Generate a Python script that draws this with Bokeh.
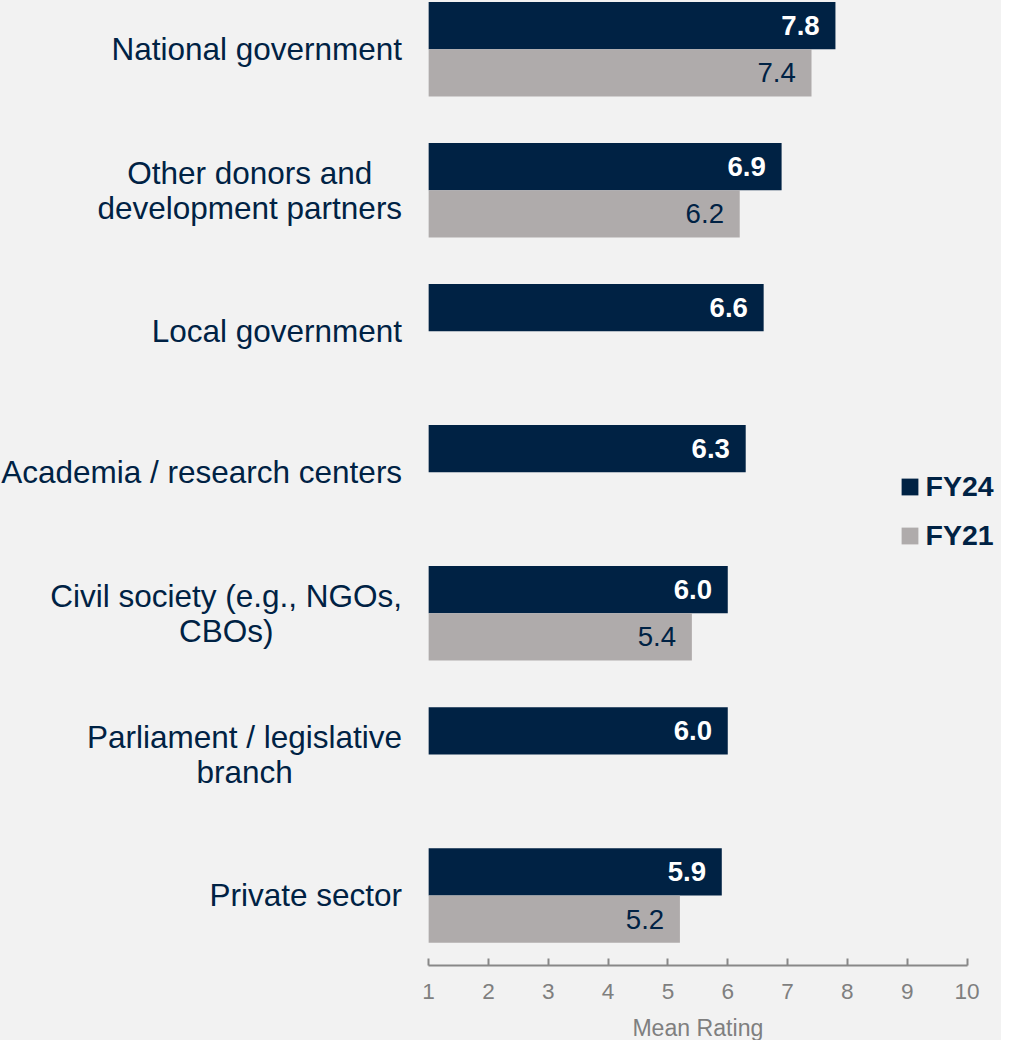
import numpy as np
from bokeh.plotting import figure
from bokeh.layouts import column
from bokeh.models import (ColumnDataSource, Range1d, LinearAxis, FixedTicker,
                          Legend, LegendItem)
from bokeh.core.properties import value
from bokeh.embed import file_html
from bokeh.resources import INLINE

# ---------------- data ----------------
categories = [
    "National government",
    "Other donors and\ndevelopment partners",
    "Local government",
    "Academia / research centers",
    "Civil society (e.g., NGOs,\nCBOs)",
    "Parliament / legislative\nbranch",
    "Private sector",
]
fy24 = [7.8, 6.9, 6.6, 6.3, 6.0, 6.0, 5.9]
fy21 = [7.4, 6.2, None, None, 5.4, None, 5.2]
series_names = ["FY24", "FY21"]
x_ticks = [1, 2, 3, 4, 5, 6, 7, 8, 9, 10]
axis_title = "Mean Rating"

# ---------------- style / layout ----------------
W, H = 1001, 1040
S = W / 1017.0
DARK = "#002244"
GRAY = "#AFABAB"
BG = "#F2F2F2"
TXT = "#002244"
AX = "#7F7F7F"
FONT = "Liberation Sans"

n = len(categories)
PITCH = 143.3                      # reference px per group
BAR_H = 48.0 / PITCH               # bar thickness in group units
x_lo, x_hi = x_ticks[0], x_ticks[-1]
AX_L, AX_R = 435.0, 982.0          # reference px of axis ends
x0 = x_lo - AX_L * (x_hi - x_lo) / (AX_R - AX_L)
x1 = x_lo + (1017.0 - AX_L) * (x_hi - x_lo) / (AX_R - AX_L)
FIRST_C = 49.5
AXIS_Y = 980.5
y_top = -FIRST_C / PITCH
y_bot = (AXIS_Y - FIRST_C) / PITCH
frame_h = int(round(AXIS_Y * S))
AXIS_PANEL = 49
H1 = frame_h + AXIS_PANEL
H2 = H - H1

# Arial / Liberation Sans advance widths (per 1000 em)
AW = {' ': 278, '(': 333, ')': 333, ',': 278, '.': 278, '/': 278,
      'A': 667, 'B': 667, 'C': 722, 'G': 778, 'L': 556, 'N': 722, 'O': 778,
      'P': 667, 'a': 556, 'b': 556, 'c': 500, 'd': 556, 'e': 556, 'g': 556,
      'h': 556, 'i': 222, 'l': 222, 'm': 833, 'n': 556, 'o': 556, 'p': 556,
      'r': 333, 's': 500, 't': 278, 'v': 500, 'y': 500, 'u': 556, 'f': 278,
      'k': 500, 'w': 722, 'x': 500}

def text_w(s, px):
    return max(sum(AW.get(c, 556) for c in line) for line in s.split("\n")) / 1000.0 * px

CAT_PX = 32 * S
VAL_PX = 28 * S
LEG_PX = 29 * S
TICK_PX = 23 * S
TITLE_PX = 23.5 * S

pos = list(range(n))
y24 = [i - BAR_H / 2 for i in pos]
y21 = [i + BAR_H / 2 for i in pos]
v21 = np.array([np.nan if v is None else v for v in fy21], dtype=float)
t24 = ["%.1f" % v for v in fy24]
t21 = ["" if v is None else "%.1f" % v for v in fy21]
lab_off = [-(27 * S + text_w(c, CAT_PX) / 2) for c in categories]

src = ColumnDataSource(dict(cat=categories, pos=pos, y24=y24, y21=y21,
                            v24=fy24, v21=v21, t24=t24, t21=t21,
                            base=[x_lo] * n, lab_off=lab_off))

p = figure(width=W, height=H1, x_range=Range1d(x0, x1), y_range=Range1d(y_bot, y_top),
           output_backend="svg", toolbar_location=None,
           x_axis_type=None, y_axis_type=None,
           min_border_left=0, min_border_right=0, min_border_top=0,
           min_border_bottom=AXIS_PANEL)
p.background_fill_color = BG
p.border_fill_color = BG
p.outline_line_color = None

r24 = p.hbar(y="y24", left="base", right="v24", height=BAR_H, source=src,
             fill_color=DARK, line_color=None)
r21 = p.hbar(y="y21", left="base", right="v21", height=BAR_H, source=src,
             fill_color=GRAY, line_color=None)

p.text(x="v24", y="y24", text="t24", source=src, x_offset=-16 * S,
       text_align="right", text_baseline="middle", text_color="white",
       text_font=value(FONT), text_font_style="bold", text_font_size="%.1fpx" % VAL_PX)
p.text(x="v21", y="y21", text="t21", source=src, x_offset=-16 * S,
       text_align="right", text_baseline="middle", text_color=TXT,
       text_font=value(FONT), text_font_size="%.1fpx" % VAL_PX)

p.text(x="base", y="pos", text="cat", source=src, x_offset="lab_off",
       text_align="center", text_baseline="middle", text_color=TXT,
       text_line_height=0.97,
       text_font=value(FONT), text_font_size="%.1fpx" % CAT_PX)

ax = LinearAxis(bounds=(x_lo, x_hi), ticker=FixedTicker(ticks=x_ticks))
ax.major_tick_in = 7
ax.major_tick_out = 0
ax.minor_tick_line_color = None
ax.axis_line_color = "#888888"
ax.axis_line_width = 2
ax.major_tick_line_color = "#888888"
ax.major_tick_line_width = 2
ax.major_label_text_color = AX
ax.major_label_text_font = FONT
ax.major_label_text_font_size = "%.1fpx" % TICK_PX
ax.major_label_standoff = 18
p.add_layout(ax, "below")

GL = 17 / 0.8 * S
legend = Legend(items=[LegendItem(label=series_names[0], renderers=[r24]),
                       LegendItem(label=series_names[1], renderers=[r21])],
                location=(915 * S - GL * 0.1, frame_h - 561 * S),
                glyph_width=int(round(GL)), glyph_height=int(round(GL)),
                label_standoff=6, spacing=16, padding=0, margin=0,
                border_line_color=None, background_fill_alpha=0,
                label_text_font=FONT, label_text_font_style="bold",
                label_text_font_size="%.1fpx" % LEG_PX, label_text_color=TXT)
p.add_layout(legend)

# axis title strip, sharing the x scale so it centres on the axis
p2 = figure(width=W, height=H2, x_range=p.x_range, y_range=Range1d(H2, 0),
            output_backend="svg", toolbar_location=None,
            x_axis_type=None, y_axis_type=None, min_border=0)
p2.background_fill_color = BG
p2.border_fill_color = BG
p2.outline_line_color = None
p2.text(x=[(x_lo + x_hi) / 2], y=[1044 * S - H1], text=[axis_title],
        text_align="center", text_baseline="middle", text_color=AX,
        text_font=value(FONT), text_font_size="%.1fpx" % TITLE_PX)

layout = column(p, p2, spacing=0, styles={"background-color": BG})
open("out.html", "w").write(file_html(layout, INLINE))
